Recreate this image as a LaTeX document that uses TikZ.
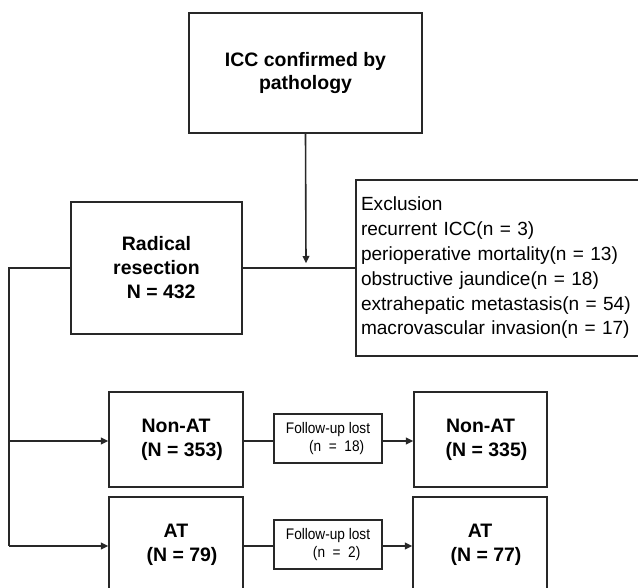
\documentclass[tikz,border=0pt]{standalone}
\usepackage{fontspec}
\setmainfont{Liberation Sans}
\newfontfamily\narrowfont{Liberation Sans}[FakeStretch=0.89]
\usetikzlibrary{arrows.meta}
\definecolor{linec}{RGB}{40,40,40}
\begin{document}
\begin{tikzpicture}[x=0.75pt,y=-0.75pt,
  box/.style={draw=linec, line width=1.2pt, inner sep=0pt, align=center,
    font=\bfseries\fontsize{14.6}{18}\selectfont},
  smallbox/.style={draw=linec, line width=1.2pt, inner sep=0pt, align=center,
    font=\narrowfont\fontsize{11.5}{12.8}\selectfont},
  conn/.style={draw=linec, line width=1.2pt},
  arr/.style={conn, -{Triangle[length=5.5pt,width=5pt]}}]
\useasboundingbox (0,0) rectangle (638,588);
\clip (0,0) rectangle (638,588);
% boxes
\node[box, minimum width={233*0.75pt}, minimum height={120*0.75pt}, font=\bfseries\fontsize{14.6}{16.8}\selectfont] (icc) at (305.5,73) {ICC confirmed by\\pathology};
\node[box, minimum width={171*0.75pt}, minimum height={132*0.75pt}] (rad) at (156.5,268) {Radical\\resection\\\hspace*{7pt}N = 432};
\node[box, minimum width={294*0.75pt}, minimum height={176*0.75pt}, text width={284*0.75pt}, align=left, inner xsep={5*0.75pt},
  font=\fontsize{14.3}{18.6}\selectfont] (excl) at (503,268) {Exclusion\\recurrent ICC(n = 3)\\perioperative mortality(n = 13)\\obstructive jaundice(n = 18)\\extrahepatic metastasis(n = 54)\\macrovascular invasion(n = 17)};
\node[box, minimum width={134*0.75pt}, minimum height={95*0.75pt}] (nat1) at (176,439.5) {Non-AT\\\hspace*{9pt}(N = 353)};
\node[smallbox, minimum width={108*0.75pt}, minimum height={49*0.75pt}] (fu1) at (328,438.5) {Follow-up lost\\\hspace*{13pt}(n~~=~~18)};
\node[box, minimum width={133*0.75pt}, minimum height={95*0.75pt}] (nat2) at (480.5,439.5) {Non-AT\\\hspace*{9pt}(N = 335)};
\node[box, minimum width={134*0.75pt}, minimum height={95*0.75pt}] (at1) at (176,544.5) {AT\\\hspace*{9pt}(N = 79)};
\node[smallbox, minimum width={108*0.75pt}, minimum height={49*0.75pt}] (fu2) at (328,544.5) {Follow-up lost\\\hspace*{13pt}(n~~=~~2)};
\node[box, minimum width={134*0.75pt}, minimum height={95*0.75pt}] (at2) at (480,544.5) {AT\\\hspace*{9pt}(N = 77)};
% connectors
\coordinate (jn) at (306,268);
\coordinate (lt) at (9,268);
\coordinate (la) at (9,441);
\coordinate (lb) at (9,546);
\draw[conn] (rad.east) -- (excl.west |- rad.east);
\draw[arr] (icc.south) -- ([yshift=3.5pt]jn);
\draw[conn] (rad.west) -- (lt) -- (lb);
\draw[arr] (la) -- (nat1.west |- la);
\draw[arr] (lb) -- (at1.west |- lb);
\draw[conn] (nat1.east |- la) -- (fu1.west |- la);
\draw[arr] (fu1.east |- la) -- (nat2.west |- la);
\draw[conn] (at1.east |- lb) -- (fu2.west |- lb);
\draw[arr] (fu2.east |- lb) -- (at2.west |- lb);
\end{tikzpicture}
\end{document}
